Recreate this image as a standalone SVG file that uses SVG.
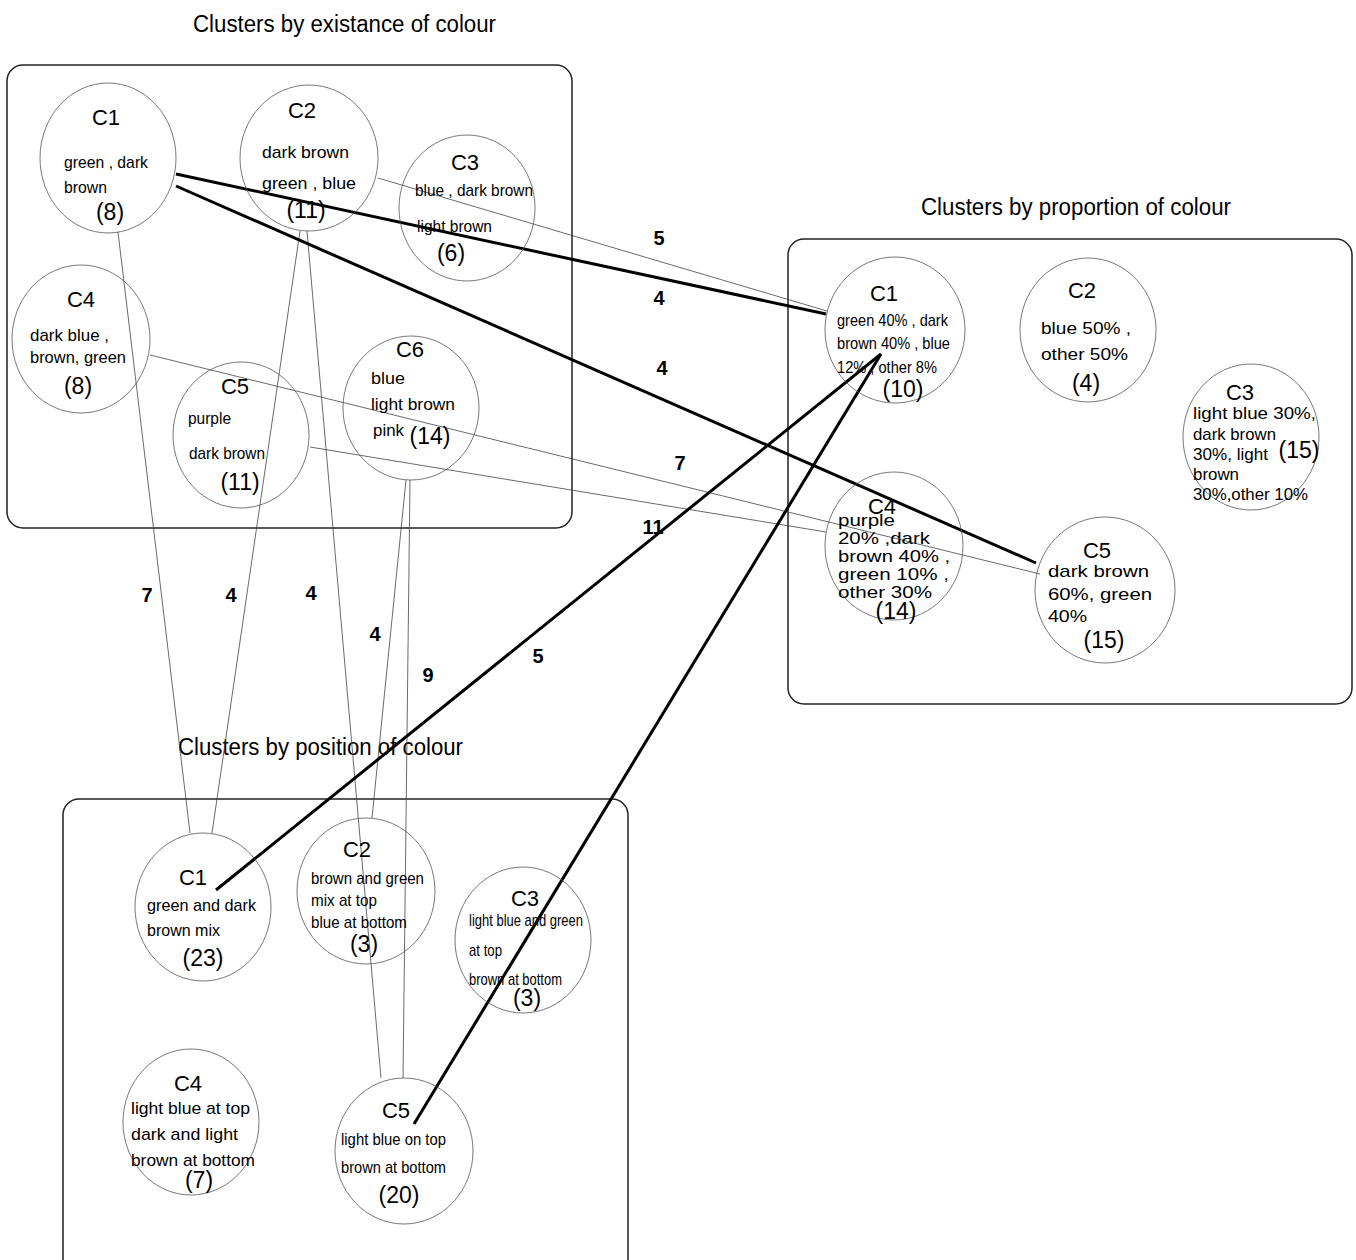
<svg xmlns="http://www.w3.org/2000/svg" width="1356" height="1260" viewBox="0 0 1356 1260">
<style>
.box{fill:none;stroke:#222;stroke-width:1.5}
.title{font-family:"Liberation Sans",Arial,sans-serif;font-size:23px;fill:#000}
.node ellipse{fill:none;stroke:#555;stroke-width:0.8}
.hd{font-family:"Liberation Sans",Arial,sans-serif;font-size:22px;fill:#000;text-anchor:middle}
.ct{font-family:"Liberation Sans",Arial,sans-serif;font-size:23px;fill:#000;text-anchor:middle}
.tx{font-family:"Liberation Sans",Arial,sans-serif;font-size:17px;fill:#000}
.thin{stroke:#444;stroke-width:0.8;fill:none}
.thick{stroke:#000;stroke-width:3;fill:none}
.lbl{font-family:"Liberation Sans",Arial,sans-serif;font-size:20px;font-weight:bold;fill:#000;text-anchor:middle}
</style>
<rect width="1356" height="1260" fill="#fff"/>
<g id="frames">
<rect class="box" x="7" y="65" width="565" height="463" rx="16"/>
<rect class="box" x="788" y="239" width="564" height="465" rx="16"/>
<rect class="box" x="63" y="799" width="565" height="478" rx="16"/>
<text class="title" x="193" y="32" textLength="303" lengthAdjust="spacingAndGlyphs">Clusters by existance of colour</text>
<text class="title" x="921" y="215" textLength="310" lengthAdjust="spacingAndGlyphs">Clusters by proportion of colour</text>
<text class="title" x="178" y="755" textLength="285" lengthAdjust="spacingAndGlyphs">Clusters by position of colour</text>
</g>
<g id="connectors">
<line class="thin" x1="118" y1="232" x2="190" y2="833"/>
<line class="thin" x1="300" y1="231" x2="212" y2="833"/>
<line class="thin" x1="307" y1="231" x2="381" y2="1078"/>
<line class="thin" x1="406" y1="480" x2="372" y2="818"/>
<line class="thin" x1="410" y1="480" x2="403" y2="1078"/>
<line class="thin" x1="378" y1="178" x2="827" y2="311"/>
<line class="thin" x1="150" y1="355" x2="1040" y2="574"/>
<line class="thin" x1="310" y1="447" x2="826" y2="532"/>
<line class="thick" x1="176" y1="174" x2="826" y2="314"/>
<line class="thick" x1="176" y1="186" x2="1036" y2="563"/>
<line class="thick" x1="881" y1="354" x2="216" y2="890"/>
<line class="thick" x1="881" y1="354" x2="414" y2="1124"/>
<text class="lbl" x="147" y="602">7</text>
<text class="lbl" x="231" y="602">4</text>
<text class="lbl" x="311" y="600">4</text>
<text class="lbl" x="375" y="641">4</text>
<text class="lbl" x="428" y="682">9</text>
<text class="lbl" x="538" y="663">5</text>
<text class="lbl" x="653" y="534">11</text>
<text class="lbl" x="680" y="470">7</text>
<text class="lbl" x="662" y="375">4</text>
<text class="lbl" x="659" y="305">4</text>
<text class="lbl" x="659" y="245">5</text>
</g>
<g id="e-c1" class="node"><ellipse cx="108" cy="158" rx="68" ry="75"/>
<text class="hd" x="106" y="125">C1</text>
<text class="tx" x="64" y="168" textLength="84" lengthAdjust="spacingAndGlyphs">green , dark</text>
<text class="tx" x="64" y="193" textLength="43" lengthAdjust="spacingAndGlyphs">brown</text>
<text class="ct" x="110" y="220">(8)</text></g>
<g id="e-c2" class="node"><ellipse cx="309" cy="158" rx="69" ry="73"/>
<text class="hd" x="302" y="118">C2</text>
<text class="tx" x="262" y="158" textLength="87" lengthAdjust="spacingAndGlyphs">dark brown</text>
<text class="tx" x="262" y="189" textLength="94" lengthAdjust="spacingAndGlyphs">green , blue</text>
<text class="ct" x="306" y="218">(11)</text></g>
<g id="e-c3" class="node"><ellipse cx="467" cy="208" rx="68" ry="73"/>
<text class="hd" x="465" y="170">C3</text>
<text class="tx" x="415" y="196" textLength="118" lengthAdjust="spacingAndGlyphs">blue , dark brown</text>
<text class="tx" x="417" y="232" textLength="75" lengthAdjust="spacingAndGlyphs">light brown</text>
<text class="ct" x="451" y="261">(6)</text></g>
<g id="e-c4" class="node"><ellipse cx="81" cy="339" rx="69" ry="74"/>
<text class="hd" x="81" y="307">C4</text>
<text class="tx" x="30" y="341" textLength="79" lengthAdjust="spacingAndGlyphs">dark blue ,</text>
<text class="tx" x="30" y="363" textLength="96" lengthAdjust="spacingAndGlyphs">brown, green</text>
<text class="ct" x="78" y="394">(8)</text></g>
<g id="e-c5" class="node"><ellipse cx="241" cy="435" rx="68" ry="73"/>
<text class="hd" x="235" y="394">C5</text>
<text class="tx" x="188" y="424" textLength="43" lengthAdjust="spacingAndGlyphs">purple</text>
<text class="tx" x="189" y="459" textLength="76" lengthAdjust="spacingAndGlyphs">dark brown</text>
<text class="ct" x="240" y="490">(11)</text></g>
<g id="e-c6" class="node"><ellipse cx="411" cy="408" rx="68" ry="72"/>
<text class="hd" x="410" y="357">C6</text>
<text class="tx" x="371" y="384" textLength="34" lengthAdjust="spacingAndGlyphs">blue</text>
<text class="tx" x="371" y="410" textLength="84" lengthAdjust="spacingAndGlyphs">light brown</text>
<text class="tx" x="373" y="436" textLength="31" lengthAdjust="spacingAndGlyphs">pink</text>
<text class="ct" x="430" y="444">(14)</text></g>
<g id="p-c1" class="node"><ellipse cx="895" cy="330" rx="70" ry="73"/>
<text class="hd" x="884" y="301">C1</text>
<text class="tx" x="837" y="326" textLength="111" lengthAdjust="spacingAndGlyphs">green 40% , dark</text>
<text class="tx" x="837" y="349" textLength="113" lengthAdjust="spacingAndGlyphs">brown 40% , blue</text>
<text class="tx" x="837" y="373" textLength="100" lengthAdjust="spacingAndGlyphs">12% , other 8%</text>
<text class="ct" x="903" y="397">(10)</text></g>
<g id="p-c2" class="node"><ellipse cx="1088" cy="330" rx="68" ry="72"/>
<text class="hd" x="1082" y="298">C2</text>
<text class="tx" x="1041" y="334" textLength="90" lengthAdjust="spacingAndGlyphs">blue 50% ,</text>
<text class="tx" x="1041" y="360" textLength="87" lengthAdjust="spacingAndGlyphs">other 50%</text>
<text class="ct" x="1086" y="391">(4)</text></g>
<g id="p-c3" class="node"><ellipse cx="1251" cy="437" rx="68" ry="73"/>
<text class="hd" x="1240" y="400">C3</text>
<text class="tx" x="1193" y="419" textLength="123" lengthAdjust="spacingAndGlyphs">light blue 30%,</text>
<text class="tx" x="1193" y="440" textLength="83" lengthAdjust="spacingAndGlyphs">dark brown</text>
<text class="tx" x="1193" y="460" textLength="75" lengthAdjust="spacingAndGlyphs">30%, light</text>
<text class="tx" x="1193" y="480" textLength="46" lengthAdjust="spacingAndGlyphs">brown</text>
<text class="tx" x="1193" y="500" textLength="115" lengthAdjust="spacingAndGlyphs">30%,other 10%</text>
<text class="ct" x="1299" y="458">(15)</text></g>
<g id="p-c4" class="node"><ellipse cx="894" cy="546" rx="69" ry="74"/>
<text class="hd" x="882" y="514">C4</text>
<text class="tx" x="838" y="526" textLength="57" lengthAdjust="spacingAndGlyphs">purple</text>
<text class="tx" x="838" y="544" textLength="92" lengthAdjust="spacingAndGlyphs">20% ,dark</text>
<text class="tx" x="838" y="562" textLength="112" lengthAdjust="spacingAndGlyphs">brown 40% ,</text>
<text class="tx" x="838" y="580" textLength="111" lengthAdjust="spacingAndGlyphs">green 10% ,</text>
<text class="tx" x="838" y="598" textLength="94" lengthAdjust="spacingAndGlyphs">other 30%</text>
<text class="ct" x="896" y="619">(14)</text></g>
<g id="p-c5" class="node"><ellipse cx="1105" cy="590" rx="70" ry="73"/>
<text class="hd" x="1097" y="558">C5</text>
<text class="tx" x="1048" y="577" textLength="101" lengthAdjust="spacingAndGlyphs">dark brown</text>
<text class="tx" x="1048" y="600" textLength="104" lengthAdjust="spacingAndGlyphs">60%, green</text>
<text class="tx" x="1048" y="622" textLength="39" lengthAdjust="spacingAndGlyphs">40%</text>
<text class="ct" x="1104" y="648">(15)</text></g>
<g id="s-c1" class="node"><ellipse cx="203" cy="907" rx="68" ry="74"/>
<text class="hd" x="193" y="885">C1</text>
<text class="tx" x="147" y="911" textLength="109" lengthAdjust="spacingAndGlyphs">green and dark</text>
<text class="tx" x="147" y="936" textLength="73" lengthAdjust="spacingAndGlyphs">brown mix</text>
<text class="ct" x="203" y="966">(23)</text></g>
<g id="s-c2" class="node"><ellipse cx="366" cy="891" rx="69" ry="73"/>
<text class="hd" x="357" y="857">C2</text>
<text class="tx" x="311" y="884" textLength="113" lengthAdjust="spacingAndGlyphs">brown and green</text>
<text class="tx" x="311" y="906" textLength="66" lengthAdjust="spacingAndGlyphs">mix at top</text>
<text class="tx" x="311" y="928" textLength="96" lengthAdjust="spacingAndGlyphs">blue at bottom</text>
<text class="ct" x="364" y="952">(3)</text></g>
<g id="s-c3" class="node"><ellipse cx="523" cy="940" rx="68" ry="73"/>
<text class="hd" x="525" y="906">C3</text>
<text class="tx" x="469" y="926" textLength="114" lengthAdjust="spacingAndGlyphs">light blue and green</text>
<text class="tx" x="469" y="956" textLength="33" lengthAdjust="spacingAndGlyphs">at top</text>
<text class="tx" x="469" y="985" textLength="93" lengthAdjust="spacingAndGlyphs">brown at bottom</text>
<text class="ct" x="527" y="1006">(3)</text></g>
<g id="s-c4" class="node"><ellipse cx="191" cy="1122" rx="68" ry="73"/>
<text class="hd" x="188" y="1091">C4</text>
<text class="tx" x="131" y="1114" textLength="119" lengthAdjust="spacingAndGlyphs">light blue at top</text>
<text class="tx" x="131" y="1140" textLength="107" lengthAdjust="spacingAndGlyphs">dark and light</text>
<text class="tx" x="131" y="1166" textLength="124" lengthAdjust="spacingAndGlyphs">brown at bottom</text>
<text class="ct" x="199" y="1188">(7)</text></g>
<g id="s-c5" class="node"><ellipse cx="404" cy="1151" rx="69" ry="73"/>
<text class="hd" x="396" y="1118">C5</text>
<text class="tx" x="341" y="1145" textLength="105" lengthAdjust="spacingAndGlyphs">light blue on top</text>
<text class="tx" x="341" y="1173" textLength="105" lengthAdjust="spacingAndGlyphs">brown at bottom</text>
<text class="ct" x="399" y="1203">(20)</text></g>
</svg>
